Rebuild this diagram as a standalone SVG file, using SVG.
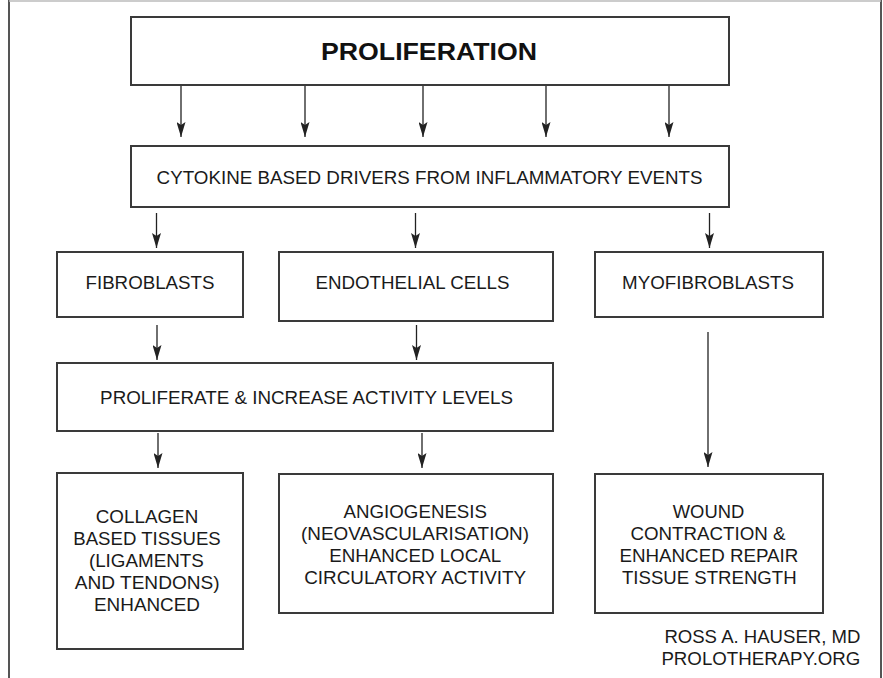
<svg xmlns="http://www.w3.org/2000/svg" width="883" height="678" viewBox="0 0 883 678">
<defs>
<marker id="ah" markerUnits="userSpaceOnUse" markerWidth="15" markerHeight="9" refX="15" refY="4.5" orient="auto">
<path d="M0,0 L15,4.5 L0,9 L3,4.5 z" fill="#222"/>
</marker>
<style>
.box{fill:#fff;stroke:#3a3a3a;stroke-width:2}
.t{font-family:"Liberation Sans",Arial,sans-serif;font-size:18px;fill:#1a1a1a;text-anchor:middle}
.title{font-family:"Liberation Sans",Arial,sans-serif;font-size:24px;font-weight:bold;fill:#111;text-anchor:middle}
.credit{font-family:"Liberation Sans",Arial,sans-serif;font-size:18px;fill:#1a1a1a;text-anchor:end}
.c{stroke:#222;stroke-width:1.3;fill:none;marker-end:url(#ah)}
.frame{stroke:#555;stroke-width:2;fill:none}
</style>
</defs>
<rect width="883" height="678" fill="#fff"/>
<g id="frame">
<line class="frame" x1="9" y1="0" x2="9" y2="678"/>
<line class="frame" x1="881" y1="0" x2="881" y2="678"/>
<line x1="9" y1="1" x2="881" y2="1" stroke="#bbb" stroke-width="1.5"/>
</g>
<g id="connectors">
<line class="c" x1="181" y1="86" x2="181" y2="137"/>
<line class="c" x1="305" y1="86" x2="305" y2="137"/>
<line class="c" x1="423" y1="86" x2="423" y2="137"/>
<line class="c" x1="546" y1="86" x2="546" y2="137"/>
<line class="c" x1="669" y1="86" x2="669" y2="137"/>
<line class="c" x1="156.5" y1="213" x2="156.5" y2="248"/>
<line class="c" x1="415.5" y1="213" x2="415.5" y2="248"/>
<line class="c" x1="709.5" y1="213" x2="709.5" y2="248"/>
<line class="c" x1="157" y1="325" x2="157" y2="360"/>
<line class="c" x1="416.5" y1="325" x2="416.5" y2="360"/>
<line class="c" x1="158" y1="433" x2="158" y2="468"/>
<line class="c" x1="422" y1="433" x2="422" y2="468"/>
<line class="c" x1="708" y1="332" x2="708" y2="467"/>
</g>
<g id="proliferation">
<rect class="box" x="131" y="17" width="598" height="68"/>
<text class="title" x="429" y="60" textLength="216" lengthAdjust="spacingAndGlyphs">PROLIFERATION</text>
</g>
<g id="cytokine">
<rect class="box" x="131" y="146" width="598" height="61"/>
<text class="t" x="429.6" y="184" textLength="546" lengthAdjust="spacingAndGlyphs">CYTOKINE BASED DRIVERS FROM INFLAMMATORY EVENTS</text>
</g>
<g id="fibroblasts">
<rect class="box" x="57" y="252" width="186" height="65"/>
<text class="t" x="150" y="289" textLength="129" lengthAdjust="spacingAndGlyphs">FIBROBLASTS</text>
</g>
<g id="endothelial">
<rect class="box" x="279" y="252" width="274" height="69"/>
<text class="t" x="412.5" y="289" textLength="194" lengthAdjust="spacingAndGlyphs">ENDOTHELIAL CELLS</text>
</g>
<g id="myofibroblasts">
<rect class="box" x="595" y="252" width="228" height="65"/>
<text class="t" x="708" y="289" textLength="172" lengthAdjust="spacingAndGlyphs">MYOFIBROBLASTS</text>
</g>
<g id="proliferate">
<rect class="box" x="57" y="363" width="496" height="68"/>
<text class="t" x="306.6" y="404" textLength="413" lengthAdjust="spacingAndGlyphs">PROLIFERATE &amp; INCREASE ACTIVITY LEVELS</text>
</g>
<g id="collagen">
<rect class="box" x="57" y="473" width="186" height="176"/>
<text class="t" x="147" y="523" textLength="102.5" lengthAdjust="spacingAndGlyphs">COLLAGEN</text>
<text class="t" x="147" y="545" textLength="147.5" lengthAdjust="spacingAndGlyphs">BASED TISSUES</text>
<text class="t" x="146.4" y="567" textLength="115" lengthAdjust="spacingAndGlyphs">(LIGAMENTS</text>
<text class="t" x="147.2" y="589" textLength="145" lengthAdjust="spacingAndGlyphs">AND TENDONS)</text>
<text class="t" x="147" y="611" textLength="106" lengthAdjust="spacingAndGlyphs">ENHANCED</text>
</g>
<g id="angiogenesis">
<rect class="box" x="279" y="474" width="274" height="139"/>
<text class="t" x="415.3" y="518" textLength="143.5" lengthAdjust="spacingAndGlyphs">ANGIOGENESIS</text>
<text class="t" x="415" y="540" textLength="228" lengthAdjust="spacingAndGlyphs">(NEOVASCULARISATION)</text>
<text class="t" x="415.2" y="562" textLength="172" lengthAdjust="spacingAndGlyphs">ENHANCED LOCAL</text>
<text class="t" x="415.2" y="584" textLength="222" lengthAdjust="spacingAndGlyphs">CIRCULATORY ACTIVITY</text>
</g>
<g id="wound">
<rect class="box" x="595" y="474" width="228" height="139"/>
<text class="t" x="708.5" y="518" textLength="71.5" lengthAdjust="spacingAndGlyphs">WOUND</text>
<text class="t" x="708" y="540" textLength="155" lengthAdjust="spacingAndGlyphs">CONTRACTION &amp;</text>
<text class="t" x="708.9" y="562" textLength="179" lengthAdjust="spacingAndGlyphs">ENHANCED REPAIR</text>
<text class="t" x="709.3" y="584" textLength="174.7" lengthAdjust="spacingAndGlyphs">TISSUE STRENGTH</text>
</g>
<g id="credit">
<text class="credit" x="860.4" y="643" textLength="196" lengthAdjust="spacingAndGlyphs">ROSS A. HAUSER, MD</text>
<text class="credit" x="860.4" y="665" textLength="199" lengthAdjust="spacingAndGlyphs">PROLOTHERAPY.ORG</text>
</g>
</svg>
